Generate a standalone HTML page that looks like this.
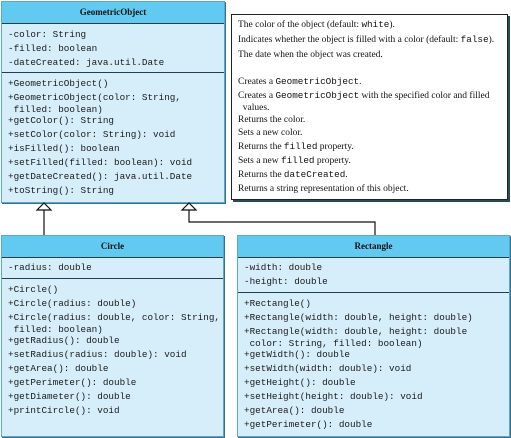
<!DOCTYPE html>
<html><head><style>
body{margin:0;width:511px;height:438px;background:#fff;position:relative;overflow:hidden}
.box{position:absolute;background:#d6eefa;border:1px solid #5aa8cc;box-shadow:1px 1px 0 #3a6f8a}
.hd{position:absolute;left:0;right:0;top:0;background:#62c9f0;border-bottom:1px solid #1f3f52;font:bold 9px "Liberation Serif",serif;text-align:center;color:#111}
.sep{position:absolute;left:0;right:0;border-top:1px solid #1f3f52}
.t{position:absolute;font:9.3px/14px "Liberation Mono",monospace;color:#1a1a1a;white-space:pre}
.t div{height:14px}
.t div.w{height:9px;line-height:9px}
.n{position:absolute;font:9.5px/14px "Liberation Serif",serif;color:#111;white-space:pre}
.n div{height:13.8px}
.n div.w{height:10px;line-height:10px}
.n code{font:9.3px "Liberation Mono",monospace}
</style></head><body>
<div class="box" style="left:1px;top:1px;width:222px;height:200px">
 <div class="hd" style="height:21px;line-height:21px">GeometricObject</div>
 <div class="sep" style="top:70px"></div>
 <div class="t" style="left:6px;top:26px"><div>-color: String</div><div>-filled: boolean</div><div>-dateCreated: java.util.Date</div></div>
 <div class="t" style="left:6px;top:75px"><div>+GeometricObject()</div><div>+GeometricObject(color: String,</div><div class="w"> filled: boolean)</div><div>+getColor(): String</div><div>+setColor(color: String): void</div><div>+isFilled(): boolean</div><div>+setFilled(filled: boolean): void</div><div>+getDateCreated(): java.util.Date</div><div>+toString(): String</div></div>
</div>
<div style="position:absolute;left:231px;top:14px;width:275px;height:184px;border:1px solid #222;box-shadow:2px 2px 0 #2a4a5a;background:#fff"></div>
<div class="n" style="left:238px;top:18px;line-height:15px"><div style="height:15px">The color of the object (default: <code>white</code>).</div><div style="height:15px">Indicates whether the object is filled with a color (default: <code>false</code>).</div><div style="height:15px">The date when the object was created.</div></div>
<div class="n" style="left:238px;top:75px"><div>Creates a <code>GeometricObject</code>.</div><div>Creates a <code>GeometricObject</code> with the specified color and filled</div><div class="w">  values.</div><div>Returns the color.</div><div>Sets a new color.</div><div>Returns the <code>filled</code> property.</div><div>Sets a new <code>filled</code> property.</div><div>Returns the <code>dateCreated</code>.</div><div>Returns a string representation of this object.</div></div>
<svg style="position:absolute;left:0;top:0" width="511" height="438">
 <g fill="#fff" stroke="#111" stroke-width="1.2">
  <polygon points="44,203 37,210 51,210"/>
  <polygon points="189,203 182,210 196,210"/>
 </g>
 <g fill="none" stroke="#111" stroke-width="1.2">
  <path d="M44,210V235"/>
  <path d="M189,210V222H375V235"/>
 </g>
</svg>
<div class="box" style="left:1px;top:235px;width:221px;height:200px">
 <div class="hd" style="height:21px;line-height:21px">Circle</div>
 <div class="sep" style="top:42px"></div>
 <div class="t" style="left:6px;top:25px"><div>-radius: double</div></div>
 <div class="t" style="left:6px;top:47px"><div>+Circle()</div><div>+Circle(radius: double)</div><div>+Circle(radius: double, color: String,</div><div class="w"> filled: boolean)</div><div>+getRadius(): double</div><div>+setRadius(radius: double): void</div><div>+getArea(): double</div><div>+getPerimeter(): double</div><div>+getDiameter(): double</div><div>+printCircle(): void</div></div>
</div>
<div class="box" style="left:237px;top:235px;width:271px;height:200px">
 <div class="hd" style="height:21px;line-height:21px">Rectangle</div>
 <div class="sep" style="top:56px"></div>
 <div class="t" style="left:6px;top:25px"><div>-width: double</div><div>-height: double</div></div>
 <div class="t" style="left:6px;top:61px"><div>+Rectangle()</div><div>+Rectangle(width: double, height: double)</div><div>+Rectangle(width: double, height: double</div><div class="w"> color: String, filled: boolean)</div><div>+getWidth(): double</div><div>+setWidth(width: double): void</div><div>+getHeight(): double</div><div>+setHeight(height: double): void</div><div>+getArea(): double</div><div>+getPerimeter(): double</div></div>
</div>
</body></html>
